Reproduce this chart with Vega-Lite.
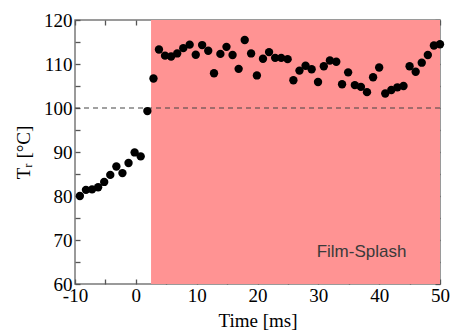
{
  "$schema": "https://vega.github.io/schema/vega-lite/v6.json",
  "width": 365,
  "height": 264,
  "autosize": "none",
  "padding": {"left": 75, "top": 20, "right": 15, "bottom": 52},
  "background": "white",
  "config": {
    "view": {"stroke": "#7a7a7a", "strokeWidth": 1.5},
    "font": "Liberation Serif",
    "axis": {
      "domain": false,
      "offset": -5,
      "tickColor": "#555555",
      "tickWidth": 1.3,
      "tickSize": 5,
      "zindex": 1,
      "labelColor": "black",
      "labelFont": "Liberation Serif",
      "labelFontSize": 19,
      "labelPadding": 3,
      "labelFlush": false,
      "labelOverlap": false,
      "titleFont": "Liberation Serif",
      "titleFontSize": 19,
      "titleFontWeight": "normal",
      "titleColor": "black",
      "grid": false
    }
  },
  "datasets": {
    "pts": [
      {"t": -9.2, "T": 80.0}, {"t": -8.2, "T": 81.4}, {"t": -7.2, "T": 81.5}, {"t": -6.2, "T": 82.0},
      {"t": -5.2, "T": 83.2}, {"t": -4.2, "T": 84.8}, {"t": -3.2, "T": 86.7}, {"t": -2.2, "T": 85.2},
      {"t": -1.2, "T": 87.5}, {"t": -0.2, "T": 89.9}, {"t": 0.8, "T": 89.0}, {"t": 1.9, "T": 99.3},
      {"t": 2.9, "T": 106.7}, {"t": 3.8, "T": 113.3}, {"t": 4.8, "T": 111.9}, {"t": 5.8, "T": 111.7},
      {"t": 6.8, "T": 112.4}, {"t": 7.8, "T": 113.6}, {"t": 8.85, "T": 114.4}, {"t": 9.85, "T": 112.1},
      {"t": 10.9, "T": 114.3}, {"t": 11.9, "T": 113.0}, {"t": 12.85, "T": 107.9}, {"t": 13.9, "T": 112.3},
      {"t": 14.9, "T": 113.9}, {"t": 15.9, "T": 112.05}, {"t": 16.9, "T": 108.9}, {"t": 17.9, "T": 115.45},
      {"t": 18.95, "T": 112.4}, {"t": 19.9, "T": 107.4}, {"t": 20.9, "T": 111.2}, {"t": 21.9, "T": 112.7},
      {"t": 22.9, "T": 111.4}, {"t": 23.9, "T": 111.4}, {"t": 24.95, "T": 111.1}, {"t": 25.9, "T": 106.3},
      {"t": 26.9, "T": 108.5}, {"t": 27.9, "T": 109.6}, {"t": 28.9, "T": 108.8}, {"t": 29.95, "T": 105.9},
      {"t": 30.9, "T": 109.5}, {"t": 31.9, "T": 110.8}, {"t": 32.95, "T": 110.5}, {"t": 33.9, "T": 105.4},
      {"t": 34.9, "T": 108.1}, {"t": 36.0, "T": 105.2}, {"t": 37.0, "T": 104.8}, {"t": 38.0, "T": 103.6},
      {"t": 39.0, "T": 107.0}, {"t": 40.0, "T": 109.2}, {"t": 41.0, "T": 103.3}, {"t": 42.0, "T": 104.1},
      {"t": 43.0, "T": 104.7}, {"t": 44.0, "T": 105.0}, {"t": 45.0, "T": 109.5}, {"t": 46.0, "T": 108.25},
      {"t": 47.0, "T": 110.3}, {"t": 48.0, "T": 112.05}, {"t": 49.0, "T": 114.2}, {"t": 50.0, "T": 114.5}
    ]
  },
  "layer": [
    {
      "data": {"values": [{}]},
      "mark": {"type": "rect", "color": "#ff9393"},
      "encoding": {
        "x": {"datum": 2.5, "type": "quantitative", "scale": {"domain": [-10, 50], "nice": false, "zero": false}, "axis": null},
        "x2": {"datum": 50},
        "y": {"datum": 60, "type": "quantitative", "scale": {"domain": [60, 120], "nice": false, "zero": false}, "axis": null},
        "y2": {"datum": 120}
      }
    },
    {
      "data": {"values": [{}]},
      "mark": {"type": "rule", "color": "#444444", "strokeWidth": 1.2, "strokeDash": [5, 4]},
      "encoding": {
        "y": {"datum": 100, "type": "quantitative", "axis": null}
      }
    },
    {
      "data": {"values": [{}]},
      "mark": {"type": "text", "font": "Liberation Sans", "fontSize": 17, "color": "#3a3a3a", "align": "center", "baseline": "middle"},
      "encoding": {
        "x": {"datum": 37.1, "type": "quantitative", "axis": null},
        "y": {"datum": 67.2, "type": "quantitative", "axis": null},
        "text": {"value": "Film-Splash"}
      }
    },
    {
      "data": {"name": "pts"},
      "mark": {"type": "point", "opacity": 0},
      "encoding": {
        "x": {"field": "t", "type": "quantitative", "axis": {"orient": "top", "values": [-10, -5, 0, 5, 10, 15, 20, 25, 30, 35, 40, 45, 50], "labels": false, "title": null}},
        "y": {"field": "T", "type": "quantitative", "axis": {"orient": "right", "values": [60, 65, 70, 75, 80, 85, 90, 95, 100, 105, 110, 115, 120], "labels": false, "title": null}}
      }
    },
    {
      "data": {"name": "pts"},
      "mark": {"type": "circle", "size": 70, "color": "black", "opacity": 1},
      "encoding": {
        "x": {"field": "t", "type": "quantitative", "axis": {"orient": "bottom", "values": [-10, -5, 0, 5, 10, 15, 20, 25, 30, 35, 40, 45, 50], "labelExpr": "datum.value % 10 === 0 ? replace(datum.label, '−', '-') : ''", "labelPadding": 2, "title": "Time [ms]", "titlePadding": 6}},
        "y": {"field": "T", "type": "quantitative", "axis": {"orient": "left", "values": [60, 65, 70, 75, 80, 85, 90, 95, 100, 105, 110, 115, 120], "labelExpr": "datum.value % 10 === 0 ? datum.label : ''", "title": "Tᵣ [°C]", "titlePadding": 10}}
      }
    }
  ],
  "resolve": {"axis": {"x": "independent", "y": "independent"}}
}
